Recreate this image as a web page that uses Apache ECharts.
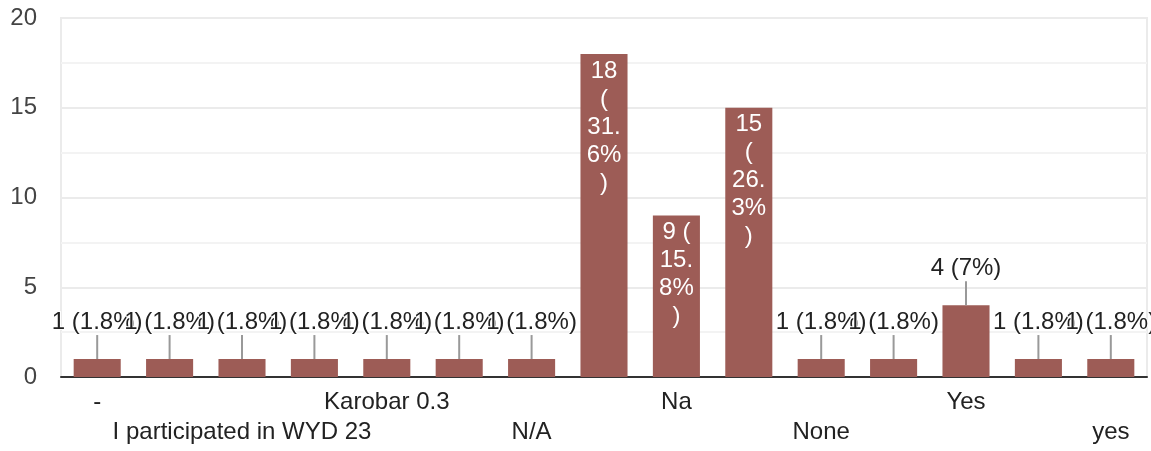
<!DOCTYPE html>
<html>
<head>
<meta charset="utf-8">
<script src="https://cdn.jsdelivr.net/npm/echarts@6/dist/echarts.min.js"></script>
<style>html,body{margin:0;padding:0;background:#fff}#c{width:1151px;height:451px}</style>
</head>
<body>
<div id="c"></div>
<script>
const categories = ["-", "I did", "I participated in WYD 23", "Just once", "Karobar 0.3", "Maybe", "N/A", "NA", "Na", "No", "None", "Not yet", "Yes", "Yes ", "yes"];
const counts = [1, 1, 1, 1, 1, 1, 1, 18, 9, 15, 1, 1, 4, 1, 1];
const yTicks = { min: 0, max: 20, interval: 5 };
const insideThreshold = 9;

const total = counts.reduce((a, b) => a + b, 0);
function pct(v) {
  const p = Math.round(v / total * 1000) / 10;
  return v + ' (' + p + '%)';
}
const FONT = '"Liberation Sans", Arial, sans-serif';
const measureCtx = document.createElement('canvas').getContext('2d');
measureCtx.font = '24px ' + FONT;
function tw(s) { return measureCtx.measureText(s).width; }
function wrap(text, width) {
  const tokens = text.match(/\(|\)|\s+|[^\s()]+/g) || [];
  const lines = [];
  let cur = '';
  tokens.forEach(tok => {
    if (/^\s+$/.test(tok)) { if (cur) cur += tok; return; }
    if (tw(cur + tok) <= width) { cur += tok; return; }
    if (tw(tok) <= width) { if (cur.trim()) lines.push(cur.trim()); cur = tok; return; }
    if (cur.trim()) lines.push(cur.trim());
    cur = '';
    for (const ch of tok) {
      if (tw(cur + ch) <= width || !cur) cur += ch;
      else { lines.push(cur); cur = ch; }
    }
  });
  if (cur.trim()) lines.push(cur.trim());
  return lines.join('\n');
}
const barData = counts.map(v => {
  if (v >= insideThreshold) {
    return { value: v, label: { position: 'insideTop', distance: 3, color: '#fff', lineHeight: 28, textBorderWidth: 0, formatter: p => wrap(pct(p.value), 38) } };
  }
  return { value: v, label: { position: 'top', distance: 25, color: '#222' } };
});
const lineData = [];
counts.forEach((v, i) => { if (v < insideThreshold) lineData.push([i, v]); });

const chart = echarts.init(document.getElementById('c'), null, { renderer: 'canvas' });
chart.setOption({
  animation: false,
  textStyle: { fontFamily: FONT },
  grid: { left: 61, right: 4, top: 18, bottom: 74, show: true, borderColor: '#ebebeb', borderWidth: 2 },
  xAxis: {
    type: 'category',
    data: categories,
    axisTick: { show: false },
    axisLine: { lineStyle: { color: '#333', width: 2 } },
    axisLabel: {
      interval: 1,
      margin: 10,
      fontSize: 24,
      lineHeight: 30,
      color: '#222',
      fontFamily: FONT,
      formatter: (val, idx) => (idx % 4 === 2 ? '\n' + val : val)
    }
  },
  yAxis: {
    type: 'value',
    min: yTicks.min, max: yTicks.max, interval: yTicks.interval,
    axisLine: { show: false },
    axisTick: { show: false },
    axisLabel: { fontSize: 24, color: '#444', margin: 24, fontFamily: FONT },
    splitLine: { lineStyle: { color: '#ebebeb', width: 2 } },
    minorTick: { show: false, splitNumber: 2 },
    minorSplitLine: { show: true, lineStyle: { color: '#f3f3f3', width: 2 } }
  },
  series: [
    {
      type: 'bar',
      data: barData,
      barWidth: '65%',
      itemStyle: { color: '#9d5c56' },
      label: {
        show: true,
        fontSize: 24,
        fontFamily: FONT,
        formatter: p => pct(p.value),
        textBorderColor: '#fff',
        textBorderWidth: 2
      },
      z: 2
    },
    {
      type: 'custom',
      data: lineData,
      z: 3,
      silent: true,
      renderItem: (params, api) => {
        const p = api.coord([api.value(0), api.value(1)]);
        return { type: 'line', shape: { x1: p[0], y1: p[1], x2: p[0], y2: p[1] - 24 }, style: { stroke: '#999', lineWidth: 2 } };
      }
    }
  ]
});
</script>
</body>
</html>
